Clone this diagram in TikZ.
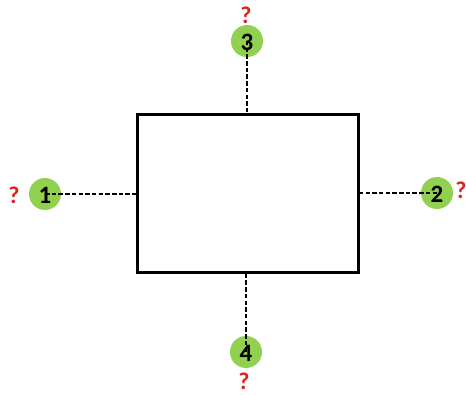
\documentclass[tikz,border=0pt]{standalone}
\usepackage{fontspec}
\setmainfont{Carlito}
\definecolor{dotgreen}{HTML}{92D050}
\definecolor{qred}{HTML}{E02020}
\begin{document}
\begin{tikzpicture}[x=1pt,y=-1pt,
  dot/.style={circle,fill=dotgreen,minimum size=32pt,inner sep=0pt},
  num/.style={font=\fontsize{25}{25}\selectfont\bfseries,inner sep=0pt},
  qm/.style={font=\fontsize{24}{24}\selectfont\bfseries,text=qred,inner sep=0pt},
  conn/.style={line width=1.8pt,dash pattern=on 4.5pt off 2.2pt},
  boxst/.style={draw,line width=3pt,minimum width=221pt,minimum height=158pt,inner sep=0pt}]
\useasboundingbox (0,0) rectangle (466,395);
\node[boxst] (box) at (247.5,194) {};
\node[dot] (c1) at (45,194) {};
\node[dot] (c2) at (437,193) {};
\node[dot] (c3) at (247,41) {};
\node[dot] (c4) at (246,352) {};
\draw[conn] (c1.center) -- (box.west |- c1.center);
\draw[conn] (c2.center) -- (box.east |- c2.center);
\draw[conn] (c3.center) -- (c3.center |- box.north);
\draw[conn] (c4.center) -- (c4.center |- box.south);
\node[num] (n1) at (45,195) {1};
\node[num] (n2) at (437,194) {2};
\node[num] (n3) at (247,42) {3};
\node[num] (n4) at (246,353) {4};
\node[qm] (q1) at (14,195) {?};
\node[qm] (q2) at (461,190) {?};
\node[qm] (q3) at (246,15) {?};
\node[qm] (q4) at (244,381) {?};
\end{tikzpicture}
\end{document}
